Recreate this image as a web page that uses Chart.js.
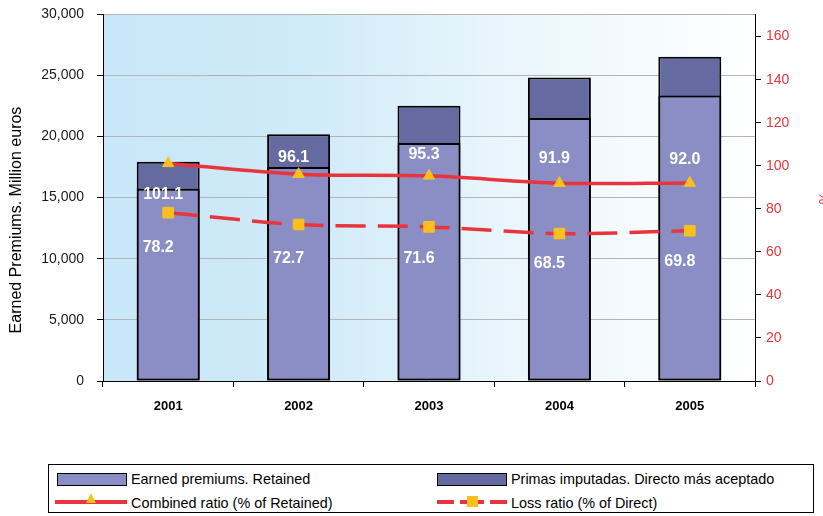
<!DOCTYPE html>
<html>
<head>
<meta charset="utf-8">
<script src="https://cdn.jsdelivr.net/npm/chart.js@4/dist/chart.umd.min.js"></script>
<style>
html,body{margin:0;padding:0;background:#fff;}
#wrap{position:relative;width:823px;height:516px;overflow:hidden;}
#c{position:absolute;left:0;top:0;}
#legend{position:absolute;left:48px;top:464px;width:766px;height:49px;border:1px solid #000;box-sizing:border-box;font-family:"Liberation Sans",Arial,sans-serif;font-size:14.4px;color:#000;background:#fff;}
.sw{position:absolute;box-sizing:border-box;border:1px solid #000;width:70px;height:13px;}
.txt{position:absolute;line-height:16px;white-space:nowrap;}
.ln{position:absolute;height:4px;width:72px;background:#e8343c;}
.dash{position:absolute;height:4px;width:72px;background:repeating-linear-gradient(90deg,#e8343c 0 17px,transparent 17px 23px,#e8343c 23px 30px);}
.tri{position:absolute;width:0;height:0;border-left:5.5px solid transparent;border-right:5.5px solid transparent;border-bottom:10px solid #fcc01c;}
.sq{position:absolute;width:11px;height:11px;background:#fcc01c;}
</style>
</head>
<body>
<div id="wrap">
<canvas id="c" width="823" height="516"></canvas>
<div id="legend">
  <div class="sw" style="left:8px;top:8px;background:#8a8ec4;"></div>
  <div class="txt" style="left:82px;top:6px;">Earned premiums. Retained</div>
  <div class="sw" style="left:388px;top:8px;background:#656aa0;"></div>
  <div class="txt" style="left:462px;top:6px;">Primas imputadas. Directo más aceptado</div>
  <div class="ln" style="left:6px;top:35px;"></div>
  <div class="tri" style="left:37px;top:28px;"></div>
  <div class="txt" style="left:82px;top:30px;">Combined ratio (% of Retained)</div>
  <div class="dash" style="left:388px;top:35px;width:70px;"></div>
  <div class="sq" style="left:418px;top:31px;"></div>
  <div class="txt" style="left:462px;top:30px;">Loss ratio (% of Direct)</div>
</div>
</div>
<script>
// ---- Data ----
const categories = ['2001', '2002', '2003', '2004', '2005'];
const earnedRetained = [15720, 17490, 19450, 21500, 23330];
const primasDirectoAceptado = [17930, 20170, 22500, 24800, 26510];
const combinedRatio = [101.1, 96.1, 95.3, 91.9, 92.0];
const lossRatio = [78.2, 72.7, 71.6, 68.5, 69.8];
const ratioTicks = [0, 20, 40, 60, 80, 100, 120, 140, 160];

const RED = '#e8343c';
const YELLOW = '#fcc01c';
const FONT = "'Liberation Sans', Arial, sans-serif";
Chart.defaults.font.family = FONT;

const bgPlugin = {
  id: 'bgGradient',
  beforeDraw(chart) {
    const {ctx, chartArea: a} = chart;
    const g = ctx.createLinearGradient(a.left, 0, a.right, 0);
    g.addColorStop(0, '#c8e7f8');
    g.addColorStop(0.3, '#cfeaf8');
    g.addColorStop(0.6, '#e8f5fc');
    g.addColorStop(1, '#ffffff');
    ctx.save();
    ctx.fillStyle = g;
    ctx.fillRect(a.left, a.top, a.right - a.left, a.bottom - a.top);
    ctx.restore();
  }
};

const labelPlugin = {
  id: 'valueLabels',
  afterDatasetsDraw(chart, args, opts) {
    const {ctx} = chart;
    ctx.save();
    ctx.fillStyle = '#ffffff';
    ctx.font = 'bold 16px ' + FONT;
    ctx.textAlign = 'center';
    ctx.textBaseline = 'middle';
    opts.sets.forEach(s => {
      const meta = chart.getDatasetMeta(s.index);
      const ds = chart.data.datasets[s.index];
      meta.data.forEach((pt, i) => {
        ctx.fillText(ds.data[i].toFixed(1), pt.x + s.dx, pt.y + s.dy[i]);
      });
    });
    ctx.restore();
  }
};

const titlePlugin = {
  id: 'axisTitles',
  afterDraw(chart) {
    const {ctx} = chart;
    ctx.save();
    ctx.fillStyle = '#000';
    ctx.font = '16px ' + FONT;
    ctx.textAlign = 'center';
    ctx.textBaseline = 'middle';
    ctx.translate(17, 220);
    ctx.rotate(-Math.PI / 2);
    ctx.fillText('Earned Premiums. Million euros', 0, 0);
    ctx.restore();
    ctx.save();
    ctx.fillStyle = RED;
    ctx.font = '14px ' + FONT;
    ctx.textAlign = 'center';
    ctx.textBaseline = 'middle';
    ctx.translate(823, 198);
    ctx.rotate(Math.PI / 2);
    ctx.fillText('%', 0, 0);
    ctx.restore();
  }
};

new Chart(document.getElementById('c'), {
  type: 'bar',
  data: {
    labels: categories,
    datasets: [
      {
        type: 'line', label: 'Combined ratio (% of Retained)', data: combinedRatio, yAxisID: 'y1',
        borderColor: RED, borderWidth: 3.5, tension: 0.3, fill: false,
        pointStyle: 'triangle', pointRadius: 6.5, pointBackgroundColor: YELLOW, pointBorderColor: YELLOW, pointBorderWidth: 1,
        order: 0
      },
      {
        type: 'line', label: 'Loss ratio (% of Direct)', data: lossRatio, yAxisID: 'y1',
        borderColor: RED, borderWidth: 3.5, borderDash: [30, 12], tension: 0.3, fill: false,
        pointStyle: 'rect', pointRadius: 7.5, pointBackgroundColor: YELLOW, pointBorderColor: YELLOW, pointBorderWidth: 1,
        order: 0
      },
      {
        type: 'bar', label: 'Earned premiums. Retained', data: earnedRetained, yAxisID: 'y',
        backgroundColor: '#8a8ec4', borderColor: '#000', borderWidth: 2, borderSkipped: false,
        grouped: false, barPercentage: 0.483, categoryPercentage: 1, order: 1
      },
      {
        type: 'bar', label: 'Primas imputadas. Directo más aceptado', data: primasDirectoAceptado, yAxisID: 'y',
        backgroundColor: '#656aa0', borderColor: '#000', borderWidth: 2, borderSkipped: false,
        grouped: false, barPercentage: 0.483, categoryPercentage: 1, order: 2
      }
    ]
  },
  options: {
    responsive: false,
    animation: false,
    layout: {padding: {top: 14, left: 0, right: 0, bottom: 0}},
    plugins: {
      legend: {display: false},
      tooltip: {enabled: false},
      valueLabels: {
        sets: [
          {index: 0, dx: -5, dy: [31, -17, -21, -25, -23]},
          {index: 1, dx: -10, dy: [35, 34, 32, 30, 31]}
        ]
      }
    },
    scales: {
      x: {
        grid: {offset: true, drawOnChartArea: false, tickLength: 6, tickColor: '#000'},
        border: {color: '#000', width: 1},
        ticks: {font: {size: 13, weight: 'bold'}, color: '#000', padding: 12},
        afterFit(s) { s.height = 135; }
      },
      y: {
        position: 'left', min: 0, max: 30000,
        ticks: {stepSize: 5000, font: {size: 14}, color: '#1a1a1a', padding: 13,
                callback: v => Number(v).toLocaleString('en-US')},
        grid: {color: '#b4b4b4', tickColor: '#000', tickLength: 6},
        border: {color: '#000', width: 1},
        afterFit(s) { s.width = 103; s.paddingTop = 0; s.paddingBottom = 0; }
      },
      y1: {
        position: 'right', min: 0, max: 170.5,
        afterBuildTicks(s) { s.ticks = ratioTicks.map(v => ({value: v})); },
        ticks: {font: {size: 14}, color: RED, padding: 5},
        grid: {drawOnChartArea: false, tickColor: '#000', tickLength: 6},
        border: {color: '#000', width: 1},
        afterFit(s) { s.width = 68; s.paddingTop = 0; s.paddingBottom = 0; }
      }
    }
  },
  plugins: [bgPlugin, labelPlugin, titlePlugin]
});
</script>
</body>
</html>
